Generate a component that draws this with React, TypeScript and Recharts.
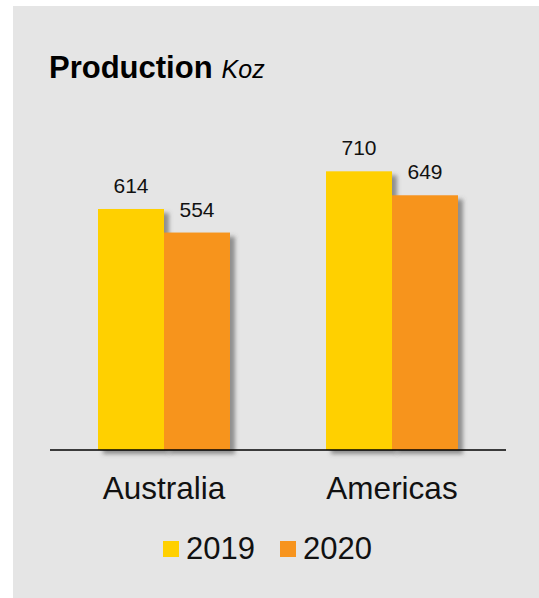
import React, { useLayoutEffect } from "react";
import { BarChart, Bar, XAxis, YAxis, LabelList } from "recharts";

const REGIONS = ["Australia", "Americas"];
const PROD_2019 = [614, 710];
const PROD_2020 = [554, 649];

const SERIES = [
  { key: "y2019", label: "2019", color: "#FFD000" },
  { key: "y2020", label: "2020", color: "#F7941E" },
];

const data = REGIONS.map((region, i) => ({
  region,
  y2019: PROD_2019[i],
  y2020: PROD_2020[i],
}));

const FONT = "Arial, 'Liberation Sans', sans-serif";
const PANEL_BG = "#e5e5e5";

function ShadowBar(props: any) {
  const { x, y, width, height, fill } = props;
  if (!height || height <= 0) return null;
  return (
    <rect
      x={x}
      y={y}
      width={width}
      height={height}
      fill={fill}
      filter="url(#barShadow)"
    />
  );
}

function RegionTick(props: any) {
  const { x, y, payload } = props;
  return (
    <text
      x={x}
      y={y + 49}
      textAnchor="middle"
      fontSize={31.5}
      fontFamily={FONT}
      fill="#111"
    >
      {payload.value}
    </text>
  );
}

export default function App() {
  useLayoutEffect(() => {
    document.documentElement.style.overflow = "hidden";
    document.body.style.margin = "0";
    document.body.style.overflow = "hidden";
    document.body.style.background = PANEL_BG;
  }, []);

  return (
    <div
      style={{
        position: "fixed",
        left: 0,
        top: 0,
        right: 0,
        bottom: 0,
        minWidth: 539,
        minHeight: 598,
        background: PANEL_BG,
        overflow: "hidden",
        fontFamily: FONT,
      }}
    >
      {/* white margins outside the grey card */}
      <div style={{ position: "absolute", left: 0, top: 0, bottom: 0, width: 13, background: "#fff" }} />
      <div style={{ position: "absolute", left: 0, top: 0, right: 0, height: 6, background: "#fff" }} />
      <svg width={0} height={0} style={{ position: "absolute" }}>
        <defs>
          <filter id="barShadow" x="-20%" y="-10%" width="150%" height="130%">
            <feDropShadow
              dx={5}
              dy={4}
              stdDeviation={2}
              floodColor="#555"
              floodOpacity={0.6}
            />
          </filter>
        </defs>
      </svg>
      <div style={{ position: "absolute", left: 0, top: 0 }}>
        <BarChart
          width={539}
          height={598}
          data={data}
          margin={{ top: 136, right: 33, bottom: 118, left: 50 }}
          barCategoryGap={48}
          barGap={0}
        >
          <YAxis hide domain={[0, 800]} />
          <XAxis
            dataKey="region"
            height={30}
            tick={<RegionTick />}
            tickLine={false}
            tickSize={0}
            tickMargin={0}
            axisLine={{ stroke: "#000", strokeWidth: 1.5 }}
            interval={0}
          />
          {SERIES.map((s) => (
            <Bar
              key={s.key}
              dataKey={s.key}
              fill={s.color}
              shape={<ShadowBar />}
              isAnimationActive={false}
            >
              <LabelList
                dataKey={s.key}
                position="top"
                offset={16}
                fontSize={21}
                fontFamily={FONT}
                fill="#111"
              />
            </Bar>
          ))}
        </BarChart>
      </div>
      <svg
        width={539}
        height={598}
        style={{ position: "absolute", left: 0, top: 0, pointerEvents: "none" }}
      >
        <text x={49} y={78} fontFamily={FONT} fill="#000">
          <tspan fontSize={31} fontWeight="bold">
            Production
          </tspan>
          <tspan fontSize={25} fontStyle="italic" dx={9}>
            Koz
          </tspan>
        </text>
        {SERIES.map((s, i) => (
          <g key={s.key} transform={`translate(${163 + i * 117}, 541)`}>
            <rect width={16} height={16} fill={s.color} />
            <text x={23} y={18} fontSize={31} fontFamily={FONT} fill="#111">
              {s.label}
            </text>
          </g>
        ))}
      </svg>
    </div>
  );
}
